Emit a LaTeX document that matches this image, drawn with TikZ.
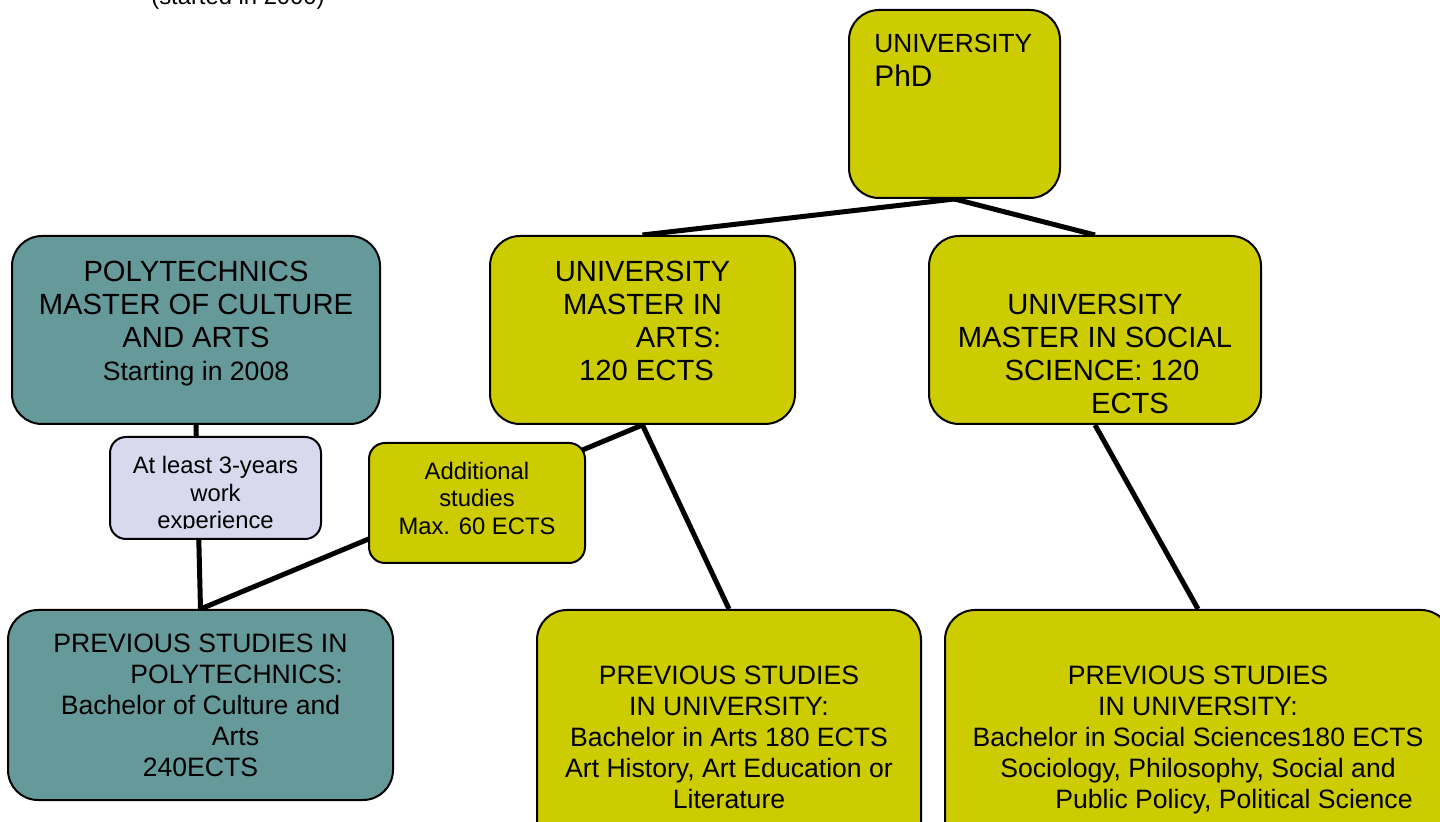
\documentclass[tikz,border=0pt]{standalone}
\usepackage{fontspec}
\setmainfont{Liberation Sans}
\usetikzlibrary{backgrounds}
\definecolor{olivebox}{HTML}{CCCC00}
\definecolor{tealbox}{HTML}{669999}
\definecolor{lavbox}{HTML}{D9D9EE}

\begin{document}
\begin{tikzpicture}[
  x=0.5pt, y=-0.5pt,
  box/.style={draw, line width=1pt, rounded corners=15pt, inner sep=0pt, align=center},
  smallbox/.style={box, rounded corners=8pt},
  txt/.style={inner sep=0pt, align=center},
  big/.style={font=\fontsize{14.6}{16.5}\selectfont},
  mid/.style={font=\fontsize{13.3}{15.5}\selectfont},
  sml/.style={font=\fontsize{11.9}{13.75}\selectfont},
  conn/.style={line width=2.5pt}
]
\useasboundingbox (0,0) rectangle (1440,822);

\node[sml, anchor=base] (note) at (238,5) {(started in 2000)};

% top
\node[box, fill=olivebox, minimum width=105.5pt, minimum height=94pt] (phd) at (954.5,104) {};
\node[txt, anchor=north west, align=left, font=\fontsize{14.9}{17}\selectfont] (phdt) at (874,34)
  {{\fontsize{13.15}{17}\selectfont UNIVERSITY}\\ PhD};

% masters
\node[box, fill=tealbox, minimum width=184pt, minimum height=94pt] (mpoly) at (196,330) {};
\node[txt, big] (mpolyt) at ([yshift=3pt]mpoly.center)
  {POLYTECHNICS\\ MASTER OF CULTURE\\ AND ARTS\\ {\fontsize{13.3}{17}\selectfont Starting in 2008}};
\node[box, fill=olivebox, minimum width=152.5pt, minimum height=94pt] (marts) at (642.5,330) {};
\node[txt, big] (martst) at ([yshift=4.5pt]marts.center)
  {UNIVERSITY\\ MASTER IN\\ \hspace*{36pt}ARTS:\\ \hspace*{4pt}120 ECTS};
\node[box, fill=olivebox, minimum width=166pt, minimum height=94pt] (msoc) at (1095,330) {};
\node[txt, big] (msoct) at ([yshift=-12pt]msoc.center)
  {UNIVERSITY\\ MASTER IN SOCIAL\\ \hspace*{7pt}SCIENCE: 120\\ \hspace*{35pt}ECTS};

% requirements
\node[smallbox, fill=lavbox, minimum width=105.5pt, minimum height=51pt] (work) at (215.5,488) {};
\begin{scope}
  \clip (work.north west) rectangle ([yshift=5.5pt]work.south east);
  \node[txt, sml] (workt) at ([yshift=-3.5pt]work.center) {At least 3-years\\ work\\ experience};
\end{scope}
\node[smallbox, fill=olivebox, minimum width=108pt, minimum height=60pt] (addst) at (477,503) {};
\node[txt, sml] (addstt) at ([yshift=2.5pt]addst.center) {Additional\\ studies\\ Max. 60 ECTS};

% bachelors
\node[box, mid, fill=tealbox, minimum width=192.5pt, minimum height=95pt] (bpoly) at (200.5,705)
  {PREVIOUS STUDIES IN\\ \hspace*{36pt}POLYTECHNICS:\\ Bachelor of Culture and\\
   \hspace*{35pt}Arts\\ 240ECTS};
\node[box, mid, fill=olivebox, minimum width=192pt, minimum height=127pt] (barts) at (729,737)
  {PREVIOUS STUDIES\\ IN UNIVERSITY:\\ Bachelor in Arts 180 ECTS\\
   Art History, Art Education or\\ Literature};
\node[box, fill=olivebox, minimum width=253pt, minimum height=127pt] (bsoc) at (1198,737) {};
\node[txt, mid] (bsoct) at ([yshift=-1.5pt]bsoc.center)
  {PREVIOUS STUDIES\\ IN UNIVERSITY:\\ Bachelor in Social Sciences180 ECTS\\
   Sociology, Philosophy, Social and\\ \hspace*{36pt}Public Policy, Political Science};

\begin{scope}[on background layer]
  \draw[conn] (phd.south) -- (marts.north);
  \draw[conn] (phd.south) -- (msoc.north);
  \draw[conn] (mpoly.south) -- (bpoly.north);
  \draw[conn] (bpoly.north) -- (marts.south);
  \draw[conn] (marts.south) -- (barts.north);
  \draw[conn] (msoc.south) -- (bsoc.north);
\end{scope}
\end{tikzpicture}
\end{document}
